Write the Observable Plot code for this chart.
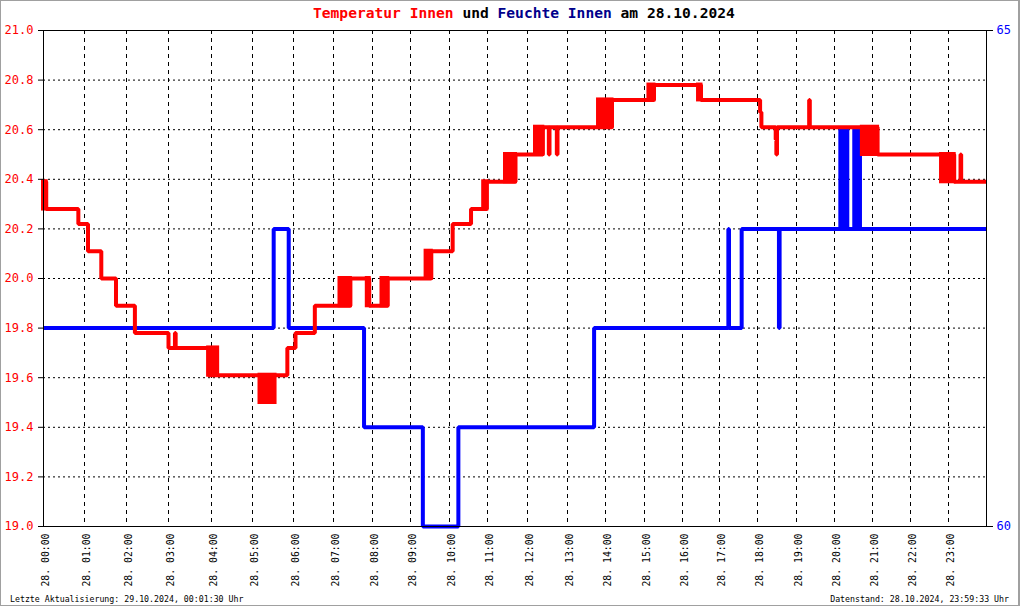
<!DOCTYPE html>
<html>
<head>
<meta charset="utf-8">
<script src="https://cdn.jsdelivr.net/npm/d3@7"></script>
<script src="https://cdn.jsdelivr.net/npm/@observablehq/plot@0.6"></script>
<style>
html,body{margin:0;padding:0;background:#fff;}
#wrap{position:relative;width:1020px;height:606px;overflow:hidden;background:#fff;font-family:"DejaVu Sans Mono",monospace;}
#chart{position:absolute;left:0;top:0;}
#border{position:absolute;left:0;top:0;width:1020px;height:606px;box-sizing:border-box;border:1px solid #a0a0a0;border-right-width:2px;pointer-events:none;}
#title{position:absolute;left:313px;top:3px;font-size:14.6px;line-height:20px;font-weight:bold;white-space:pre;color:#000;}
.foot{position:absolute;top:594px;font-size:8.25px;line-height:10px;white-space:pre;color:#000;}
</style>
</head>
<body>
<div id="wrap">
  <div id="chart"></div>
  <div id="title"></div>
  <div class="foot" id="footL" style="left:10px;"></div>
  <div class="foot" id="footR" style="right:11px;"></div>
  <div id="border"></div>
</div>
<script>
// ---------- texts ----------
const titleParts = ["Temperatur Innen", " und ", "Feuchte Innen", " am 28.10.2024"];
const titleColors = ["#ff0000", "#000000", "#00008b", "#000000"];
const footerLeft = "Letzte Aktualisierung: 29.10.2024, 00:01:30 Uhr";
const footerRight = "Datenstand: 28.10.2024, 23:59:33 Uhr";

// ---------- axes ----------
const hourTicks = [0,1,2,3,4,5,6,7,8,9,10,11,12,13,14,15,16,17,18,19,20,21,22,23];
const xTickLabels = ["28. 00:00","28. 01:00","28. 02:00","28. 03:00","28. 04:00","28. 05:00",
  "28. 06:00","28. 07:00","28. 08:00","28. 09:00","28. 10:00","28. 11:00","28. 12:00",
  "28. 13:00","28. 14:00","28. 15:00","28. 16:00","28. 17:00","28. 18:00","28. 19:00",
  "28. 20:00","28. 21:00","28. 22:00","28. 23:00"];
const tempTicks = [19.0,19.2,19.4,19.6,19.8,20.0,20.2,20.4,20.6,20.8,21.0];
const tempGrid = [19.2,19.4,19.6,19.8,20.0,20.2,20.4,20.6,20.8];
const tempDomain = [19, 21];
const humTicks = [60, 65];
const humDomain = [60, 65];

// ---------- temperature (step changes) ----------
const tempTimes = ["00:00","00:04","00:51","01:05","01:24","01:45","02:12","03:00","03:09","03:10",
  "03:56","05:51","06:03","06:32","07:26","07:55","08:24","09:32","10:05","10:34","10:59",
  "11:42","12:23","12:32","12:33","12:44","12:45","14:10","15:15","16:30","18:04","18:06",
  "18:28","18:29","18:30","19:20","19:21","21:08","23:09","23:19","23:20","24:00"];
const tempValues = [20.39,20.28,20.22,20.11,20.00,19.89,19.78,19.72,19.78,19.72,
  19.61,19.72,19.78,19.89,20.00,19.89,20.00,20.11,20.22,20.28,20.39,
  20.50,20.61,20.50,20.61,20.50,20.61,20.72,20.78,20.72,20.67,20.61,
  20.56,20.50,20.61,20.72,20.61,20.50,20.39,20.50,20.39,20.39];
// periods where the sensor toggles rapidly between two values
const tempBandFrom = ["00:00","03:56","05:11","07:10","07:52","08:15","09:24","10:54","11:27","12:12","13:49","15:07","16:26","20:44","22:49"];
const tempBandTo   = ["00:04","04:09","05:33","07:26","07:55","08:24","09:32","10:59","11:42","12:23","14:10","15:15","16:30","21:08","23:09"];
const tempBandLow  = [20.28,19.61,19.50,19.89,19.89,19.89,20.00,20.28,20.39,20.50,20.61,20.72,20.72,20.50,20.39];
const tempBandHigh = [20.39,19.72,19.61,20.00,20.00,20.00,20.11,20.39,20.50,20.61,20.72,20.78,20.78,20.61,20.50];

// ---------- humidity (step changes) ----------
const humTimes = ["00:00","05:31","05:53","07:47","09:19","10:14","13:42","17:14","17:15","17:35","18:33","18:34","24:00"];
const humValues = [62,63,62,61,60,61,62,63,62,63,62,63,63];
const humBandFrom = ["20:10","20:32"];
const humBandTo   = ["20:21","20:41"];
const humBandLow  = [63,63];
const humBandHigh = [64,64];

// ---------- scale layout (the source chart's hour ticks are unevenly spaced) ----------
const xDomainHours = [0,1,2,3,4,5,6,7,8,9,10,11,12,13,14,15,16,17,18,19,20,21,22,23,24];
const xRangePx = [43,84,126,168,211,252,293,333,372,410,449,487,527,567,605,644,682,719,757,796,834,872,910,948,986];

// ---------- build ----------
const parseT = s => { const [h, m] = s.split(":").map(Number); return h + m / 60; };
const humToY = h => tempDomain[0] + (h - humDomain[0]) / (humDomain[1] - humDomain[0]) * (tempDomain[1] - tempDomain[0]);
const yToHum = y => humDomain[0] + (y - tempDomain[0]) / (tempDomain[1] - tempDomain[0]) * (humDomain[1] - humDomain[0]);

const temp = tempTimes.map((t, i) => ({x: parseT(t), y: tempValues[i]}));
const tempBands = tempBandFrom.map((t, i) => ({x1: parseT(t), x2: parseT(tempBandTo[i]), y1: tempBandLow[i], y2: tempBandHigh[i]}));
const hum = humTimes.map((t, i) => ({x: parseT(t), y: humToY(humValues[i])}));
const humBands = humBandFrom.map((t, i) => ({x1: parseT(t), x2: parseT(humBandTo[i]), y1: humToY(humBandLow[i]), y2: humToY(humBandHigh[i])}));

const RED = "#ff0000", BLUE = "#0000ff";
const lineStyle = {curve: "step-after", strokeWidth: 4, strokeLinejoin: "miter", strokeLinecap: "butt"};

const chart = Plot.plot({
  width: 1020,
  height: 606,
  marginLeft: 43,
  marginRight: 34,
  marginTop: 30,
  marginBottom: 80,
  style: {fontFamily: '"DejaVu Sans Mono", monospace', fontSize: "12px", background: "white", color: "black"},
  x: {type: "linear", domain: xDomainHours, range: xRangePx, label: null},
  y: {domain: tempDomain, label: null},
  marks: [
    Plot.gridY(tempGrid, {stroke: "black", strokeOpacity: 1, strokeDasharray: "2,3"}),
    Plot.gridX(hourTicks.slice(1), {stroke: "black", strokeOpacity: 1, strokeDasharray: "4,4"}),
    Plot.rect(humBands, {x1: "x1", x2: "x2", y1: "y1", y2: "y2", fill: BLUE, stroke: BLUE, strokeWidth: 4}),
    Plot.line(hum, {x: "x", y: "y", stroke: BLUE, ...lineStyle}),
    Plot.rect(tempBands, {x1: "x1", x2: "x2", y1: "y1", y2: "y2", fill: RED, stroke: RED, strokeWidth: 4}),
    Plot.line(temp, {x: "x", y: "y", stroke: RED, ...lineStyle}),
    Plot.frame({stroke: "black"}),
    Plot.axisY(tempTicks, {anchor: "left", tickSize: 5, tickPadding: 5, tickFormat: d => d.toFixed(1),
      fill: RED, stroke: "black", fontSize: 12, label: null}),
    Plot.axisY(humTicks.map(humToY), {anchor: "right", tickSize: 6, tickPadding: 4,
      tickFormat: d => String(Math.round(yToHum(d))), fill: BLUE, stroke: "black", fontSize: 12, label: null}),
    Plot.axisX(hourTicks, {anchor: "bottom", tickSize: 0, tickPadding: 7, tickRotate: -90, textAnchor: "end",
      dx: 2, tickFormat: d => xTickLabels[Math.round(d)], fill: "black", fontSize: 9.8, label: null})
  ]
});
document.getElementById("chart").appendChild(chart);

const title = document.getElementById("title");
titleParts.forEach((p, i) => {
  const s = document.createElement("span");
  s.textContent = p;
  s.style.color = titleColors[i];
  title.appendChild(s);
});
document.getElementById("footL").textContent = footerLeft;
document.getElementById("footR").textContent = footerRight;
</script>
</body>
</html>
